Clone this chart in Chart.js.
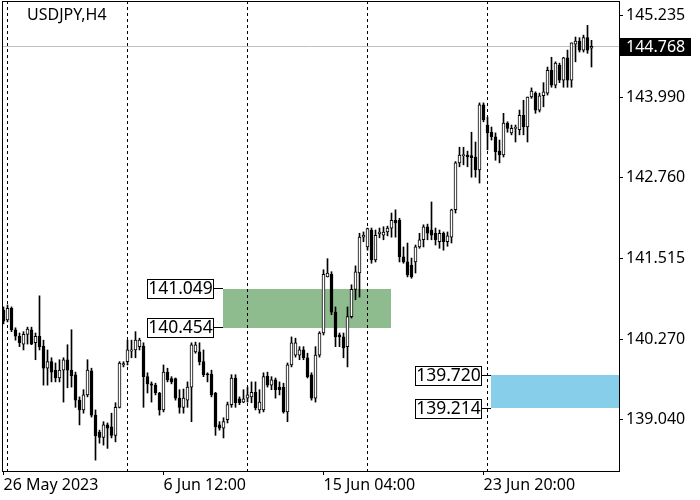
<!DOCTYPE html>
<html>
<head>
<meta charset="utf-8">
<script src="https://cdn.jsdelivr.net/npm/chart.js@4.4.0/dist/chart.umd.min.js"></script>
<style>
  html, body { margin: 0; padding: 0; background: #fff; }
  canvas { display: block; }
</style>
</head>
<body>
<canvas id="chart" width="700" height="500"></canvas>
<script>
// USDJPY H4 candles, first bar = 26 May 2023 20:00
const symbol = 'USDJPY,H4';
const opens = [
  140.72,140.57,140.75,140.42,140.32,140.20,140.35,140.42,140.22,140.32,
  140.17,139.83,139.93,139.80,139.68,139.80,139.96,139.80,139.73,139.34,
  139.19,139.42,139.79,139.11,138.85,138.77,138.96,138.93,138.80,139.23,
  139.88,139.93,140.09,140.11,140.16,140.17,139.70,139.59,139.57,139.45,
  139.19,139.77,139.67,139.67,139.37,139.23,139.34,139.54,140.08,140.08,
  139.93,139.74,139.74,139.45,138.96,138.91,139.04,139.27,139.68,139.36,
  139.31,139.37,139.39,139.46,139.19,139.19,139.71,139.57,139.65,139.54,
  139.54,139.16,139.88,140.03,140.03,140.11,139.99,139.73,139.37,140.03,
  140.37,141.23,141.27,140.69,140.34,140.31,140.16,140.62,141.04,141.29,
  141.84,141.69,141.95,141.49,141.89,141.87,141.92,141.98,142.10,142.10,
  141.54,141.46,141.41,141.46,141.69,141.80,142.00,141.95,141.90,141.77,
  141.90,141.77,141.84,142.26,142.98,143.09,143.10,143.09,143.07,142.87,
  143.87,143.56,143.45,143.38,143.16,143.10,143.59,143.44,143.51,143.49,
  143.71,143.53,143.99,144.05,143.79,144.01,144.05,144.40,144.17,144.48,
  144.25,144.59,144.25,144.80,144.85,144.71,144.90,144.74
];
const highs = [
  140.77,140.80,140.77,140.45,140.37,140.39,140.46,140.46,140.37,140.94,
  140.26,140.11,139.99,139.91,139.96,139.99,140.19,140.42,139.77,139.39,
  139.50,139.96,139.83,139.19,138.88,139.01,138.99,139.14,139.30,139.93,
  139.93,140.26,140.26,140.39,140.29,140.22,139.76,139.62,139.60,139.46,
  139.88,139.83,139.70,139.68,139.50,139.51,139.62,140.22,140.23,140.22,
  140.11,139.76,139.80,139.46,139.01,139.07,139.31,139.73,139.73,139.39,
  139.50,139.54,139.62,139.62,139.50,139.76,139.77,139.70,139.68,139.62,
  139.60,139.91,140.31,140.29,140.16,140.16,140.06,139.76,140.16,140.39,
  141.34,141.51,141.31,140.77,140.37,140.37,140.77,141.11,141.40,141.90,
  141.92,141.98,141.98,141.95,141.98,142.00,142.01,142.21,142.26,142.13,
  141.69,141.75,141.52,141.72,141.90,142.03,142.04,142.38,141.98,141.95,
  141.92,141.92,142.27,143.00,143.22,143.22,143.16,143.45,143.30,143.90,
  143.90,143.68,143.53,143.44,143.33,143.74,143.61,143.56,143.56,143.79,
  143.94,143.99,144.13,144.07,144.05,144.21,144.45,144.60,144.53,144.51,
  144.60,144.71,144.82,144.91,144.90,144.94,145.09,144.86
];
const lows = [
  140.51,140.54,140.39,140.26,140.16,140.11,140.20,140.19,139.96,140.11,
  139.57,139.57,139.62,139.62,139.62,139.31,139.53,139.54,139.23,138.96,
  139.14,139.39,139.08,138.42,138.68,138.65,138.60,138.76,138.70,139.22,
  139.85,139.88,139.99,139.99,140.11,139.23,139.45,139.31,139.42,139.11,
  139.16,139.62,139.59,139.34,139.14,139.14,139.23,139.01,140.06,139.88,
  139.70,139.62,139.39,138.80,138.88,138.76,138.99,139.23,139.23,139.27,
  139.30,139.31,139.30,139.19,139.14,139.16,139.54,139.50,139.37,139.42,
  139.14,139.01,139.85,140.00,139.96,139.96,139.68,139.34,139.31,140.00,
  140.34,141.23,140.65,140.16,140.16,139.99,139.85,140.60,140.88,140.92,
  141.77,141.64,141.44,141.46,141.83,141.80,141.86,141.84,141.84,141.46,
  141.44,141.23,141.21,141.29,141.67,141.69,141.80,141.80,141.72,141.67,
  141.64,141.70,141.75,142.21,142.92,142.95,142.92,142.76,142.76,142.67,
  143.61,143.18,143.33,143.02,142.98,143.07,143.45,143.41,143.30,143.41,
  143.41,143.30,143.97,143.74,143.76,143.84,144.02,144.14,144.13,144.21,
  144.14,144.14,144.14,144.53,144.68,144.68,144.66,144.45
];
const closes = [
  140.55,140.75,140.42,140.32,140.22,140.35,140.43,140.20,140.32,140.16,
  139.83,139.93,139.77,139.68,139.80,139.96,139.80,139.71,139.34,139.19,
  139.42,139.80,139.11,138.79,138.77,138.96,138.91,138.80,139.23,139.91,
  139.90,140.11,140.11,140.26,140.26,139.70,139.59,139.57,139.45,139.19,
  139.77,139.65,139.62,139.37,139.23,139.37,139.54,140.19,140.19,139.93,
  139.73,139.73,139.42,138.93,138.91,139.01,139.27,139.68,139.30,139.30,
  139.36,139.42,139.46,139.22,139.31,139.70,139.57,139.65,139.50,139.50,
  139.16,139.88,140.22,140.22,140.11,139.99,139.70,139.37,140.03,140.37,
  141.27,141.29,140.69,140.31,140.31,140.14,140.62,141.04,141.31,141.84,
  141.87,141.97,141.49,141.87,141.92,141.92,141.98,142.10,142.06,141.54,
  141.46,141.26,141.23,141.69,141.80,142.00,141.90,141.87,141.80,141.90,
  141.77,141.86,142.26,142.98,143.10,143.10,143.07,143.06,142.87,143.87,
  143.64,143.44,143.38,143.15,143.10,143.59,143.51,143.51,143.52,143.71,
  143.53,143.99,144.08,143.79,144.01,144.07,144.40,144.17,144.51,144.25,
  144.59,144.25,144.82,144.85,144.71,144.90,144.71,144.768
];

// time axis: bar index -> label, week separators (Monday 00:00)
const timeTickIndex = [0, 40, 80, 120];
const timeTickText = ['26 May 2023', '6 Jun 12:00', '15 Jun 04:00', '23 Jun 20:00'];
const weekStarts = [1, 31, 61, 91, 121];

// price axis
const priceTicks = [145.235, 143.990, 142.760, 141.515, 140.270, 139.040];
const priceMin = 138.253;
const priceMax = 145.463;
const lastPrice = 144.768;

// zones: upper / lower price, start / end bar index (null = to right edge)
const zoneTop = [141.049, 139.720];
const zoneBottom = [140.454, 139.214];
const zoneFrom = [54.875, 121.8];
const zoneTo = [96.875, null];
const zoneColor = ['#8fbc8f', '#87ceeb'];

const xMin = -0.375, xMax = 153.875;

Chart.defaults.font.family = 'Noto Sans';
Chart.defaults.font.size = 16;
Chart.defaults.color = '#000';

const idx = opens.map((_, i) => i);
const isBull = idx.map(i => closes[i] >= opens[i]);

const overlay = {
  id: 'overlay',
  beforeDraw(chart) {
    const { ctx, chartArea: a, scales: { x, y } } = chart;
    ctx.save();
    // zones
    zoneTop.forEach((t, k) => {
      const x0 = Math.round(x.getPixelForValue(zoneFrom[k]));
      const x1 = zoneTo[k] === null ? a.right : Math.round(x.getPixelForValue(zoneTo[k]));
      const y0 = Math.round(y.getPixelForValue(t));
      const y1 = Math.round(y.getPixelForValue(zoneBottom[k]));
      ctx.fillStyle = zoneColor[k];
      ctx.fillRect(x0, y0, x1 - x0, y1 - y0);
    });
    // bid line
    const py = Math.floor(y.getPixelForValue(lastPrice)) + 0.5;
    ctx.strokeStyle = '#c0c0c0';
    ctx.lineWidth = 1;
    ctx.beginPath();
    ctx.moveTo(a.left, py);
    ctx.lineTo(a.right, py);
    ctx.stroke();
    ctx.restore();
  },
  afterDraw(chart) {
    const { ctx, chartArea: a, scales: { x, y } } = chart;
    ctx.save();
    ctx.lineWidth = 1;
    ctx.strokeStyle = '#000';
    ctx.strokeRect(a.left + 0.5, a.top + 0.5, a.width, a.height);

    ctx.fillStyle = '#000';
    ctx.font = '16px "Noto Sans"';
    ctx.textBaseline = 'middle';
    ctx.textAlign = 'left';
    ctx.fillText(symbol, 27, 15);

    // price labels next to zones
    ctx.font = '17.5px "Noto Sans"';
    zoneTop.forEach((t, k) => {
      const x0 = Math.round(x.getPixelForValue(zoneFrom[k]));
      [t, zoneBottom[k]].forEach(v => {
        const py = Math.floor(y.getPixelForValue(v)) + 0.5;
        const right = x0 - 9;
        const w = 67, h = 20;
        ctx.fillStyle = '#fff';
        ctx.fillRect(right - w, py - 9.5, w, h);
        ctx.strokeStyle = '#000';
        ctx.strokeRect(right - w + 0.5, py - 9, w - 1, h - 1);
        ctx.beginPath();
        ctx.moveTo(right, py);
        ctx.lineTo(x0, py);
        ctx.stroke();
        ctx.fillStyle = '#000';
        ctx.textAlign = 'center';
        ctx.fillText(v.toFixed(3), right - w / 2, py + 1);
      });
    });

    // current price tag
    const py = Math.floor(y.getPixelForValue(lastPrice)) + 0.5;
    ctx.fillStyle = '#000';
    ctx.fillRect(a.right + 1, Math.round(py - 9), 71, 18);
    ctx.fillStyle = '#fff';
    ctx.font = '16px "Noto Sans"';
    ctx.textAlign = 'left';
    ctx.fillText(lastPrice.toFixed(3), a.right + 7, py + 0.5);
    ctx.restore();
  }
};

new Chart(document.getElementById('chart'), {
  type: 'bar',
  data: {
    datasets: [
      {
        label: 'body',
        order: 0,
        data: idx.map(i => ({ x: i, y: [Math.min(opens[i], closes[i]), Math.max(opens[i], closes[i])] })),
        backgroundColor: isBull.map(b => b ? '#ffffff' : '#000000'),
        borderColor: '#000',
        borderWidth: 1,
        borderSkipped: false,
        barThickness: 3,
        minBarLength: 1,
        grouped: false
      },
      {
        label: 'wick',
        order: 1,
        data: idx.map(i => ({ x: i, y: [lows[i], highs[i]] })),
        backgroundColor: '#000',
        borderWidth: 0,
        barThickness: 1,
        grouped: false
      }
    ]
  },
  options: {
    responsive: false,
    animation: false,
    layout: { padding: { left: 2, top: 1, right: 0, bottom: 0 } },
    plugins: { legend: { display: false }, tooltip: { enabled: false } },
    scales: {
      x: {
        type: 'linear',
        position: 'bottom',
        offset: false,
        min: xMin,
        max: xMax,
        afterBuildTicks: s => { s.ticks = timeTickIndex.map(v => ({ value: v })); },
        afterFit: s => { s.height = 29; s.paddingLeft = 0; s.paddingRight = 0; },
        ticks: {
          callback: v => timeTickText[timeTickIndex.indexOf(v)],
          align: 'start',
          padding: 1,
          maxRotation: 0,
          autoSkip: false
        },
        grid: { drawOnChartArea: false, drawTicks: true, tickLength: 4, color: '#000', offset: false },
        border: { display: false }
      },
      weeks: {
        type: 'linear',
        position: 'top',
        offset: false,
        min: xMin,
        max: xMax,
        afterBuildTicks: s => { s.ticks = weekStarts.map(v => ({ value: v })); },
        afterFit: s => { s.height = 0; s.paddingLeft = 0; s.paddingRight = 0; },
        ticks: { display: false },
        grid: { drawOnChartArea: true, drawTicks: false, color: '#000', offset: false },
        border: { display: false, dash: [3, 3] }
      },
      y: {
        type: 'linear',
        position: 'right',
        min: priceMin,
        max: priceMax,
        afterBuildTicks: s => { s.ticks = priceTicks.map(v => ({ value: v })); },
        afterFit: s => { s.width = 81; s.paddingTop = 0; s.paddingBottom = 0; },
        ticks: { callback: v => v.toFixed(3), padding: 3 },
        grid: { drawOnChartArea: false, drawTicks: true, tickLength: 4, color: '#000' },
        border: { display: false }
      }
    }
  },
  plugins: [overlay]
});
</script>
</body>
</html>
